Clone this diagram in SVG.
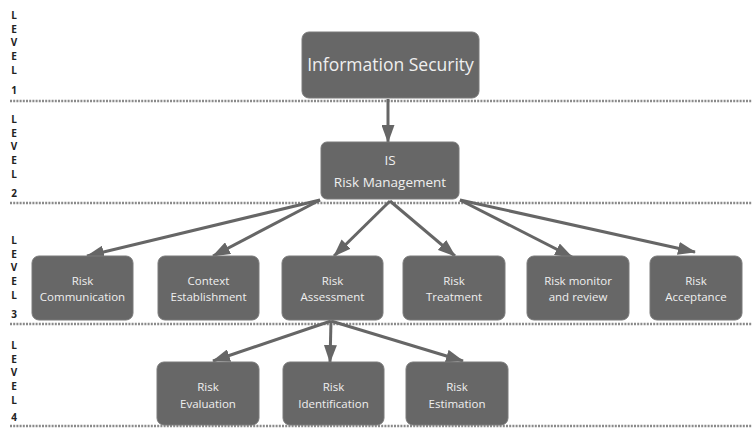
<svg xmlns="http://www.w3.org/2000/svg" width="752" height="430" viewBox="0 0 752 430">
  <defs>
    <marker id="arrow" viewBox="0 0 18 13" refX="17" refY="6.5" markerWidth="18" markerHeight="13" markerUnits="userSpaceOnUse" orient="auto">
      <path d="M0,0 L18,6.5 L0,13 Z" fill="#666"/>
    </marker>
    <style>
      .box { fill: #676767; stroke: #7a7a7a; stroke-width: 1; }
      .lbl { font-family: "Open Sans", "Liberation Sans", sans-serif; font-size: 11.5px; fill: #efefef; text-anchor: middle; }
      .big { font-size: 17.5px; }
      .mid { font-size: 13.5px; }
      .lvl { font-family: "Open Sans", "Liberation Sans", sans-serif; font-size: 10px; font-weight: bold; fill: #222; text-anchor: middle; }
      .sep { stroke: #8a8a8a; stroke-width: 2.5; stroke-dasharray: 2 1.2; fill: none; }
      .edge { stroke: #666; stroke-width: 3; fill: none; marker-end: url(#arrow); }
    </style>
  </defs>

  <rect width="752" height="430" fill="#ffffff"/>

  <!-- level separators -->
  <g id="separators">
    <line class="sep" x1="10" y1="101" x2="752" y2="101"/>
    <line class="sep" x1="10" y1="203" x2="752" y2="203"/>
    <line class="sep" x1="10" y1="324" x2="752" y2="324"/>
    <line class="sep" x1="10" y1="426" x2="752" y2="426"/>
  </g>

  <!-- level captions -->
  <g id="level-labels">
    <text class="lvl" x="14"><tspan x="14" y="19">L</tspan><tspan x="14" y="33">E</tspan><tspan x="14" y="46">V</tspan><tspan x="14" y="60">E</tspan><tspan x="14" y="74">L</tspan><tspan x="14" y="94">1</tspan></text>
    <text class="lvl" x="14"><tspan x="14" y="123">L</tspan><tspan x="14" y="137">E</tspan><tspan x="14" y="150">V</tspan><tspan x="14" y="164">E</tspan><tspan x="14" y="178">L</tspan><tspan x="14" y="197">2</tspan></text>
    <text class="lvl" x="14"><tspan x="14" y="244">L</tspan><tspan x="14" y="258">E</tspan><tspan x="14" y="271">V</tspan><tspan x="14" y="285">E</tspan><tspan x="14" y="299">L</tspan><tspan x="14" y="318">3</tspan></text>
    <text class="lvl" x="14"><tspan x="14" y="349">L</tspan><tspan x="14" y="363">E</tspan><tspan x="14" y="376">V</tspan><tspan x="14" y="390">E</tspan><tspan x="14" y="404">L</tspan><tspan x="14" y="421">4</tspan></text>
  </g>

  <!-- connectors -->
  <g id="connectors">
    <line class="edge" x1="388" y1="99" x2="388" y2="142"/>
    <line class="edge" x1="320" y1="200" x2="87" y2="256"/>
    <line class="edge" x1="320" y1="200" x2="213" y2="256"/>
    <line class="edge" x1="390" y1="201" x2="334" y2="256"/>
    <line class="edge" x1="390" y1="201" x2="455" y2="256"/>
    <line class="edge" x1="460" y1="200" x2="572" y2="257"/>
    <line class="edge" x1="460" y1="200" x2="695" y2="252"/>
    <line class="edge" x1="331" y1="321" x2="213" y2="361"/>
    <line class="edge" x1="331" y1="321" x2="330" y2="362"/>
    <line class="edge" x1="331" y1="321" x2="463" y2="361"/>
  </g>

  <!-- level 1 -->
  <g id="information-security">
    <rect class="box" x="302" y="32" width="177" height="66" rx="7"/>
    <text class="lbl big" x="390.5" y="71">Information Security</text>
  </g>

  <!-- level 2 -->
  <g id="is-risk-management">
    <rect class="box" x="321" y="142" width="138" height="57" rx="6"/>
    <text class="lbl mid" x="390" y="165">IS</text>
    <text class="lbl mid" x="390" y="187">Risk Management</text>
  </g>

  <!-- level 3 -->
  <g id="risk-communication">
    <rect class="box" x="32" y="256" width="101" height="64" rx="7"/>
    <text class="lbl" x="82.5" y="285">Risk</text>
    <text class="lbl" x="82.5" y="301">Communication</text>
  </g>
  <g id="context-establishment">
    <rect class="box" x="158" y="256" width="101" height="64" rx="7"/>
    <text class="lbl" x="208.5" y="285">Context</text>
    <text class="lbl" x="208.5" y="301">Establishment</text>
  </g>
  <g id="risk-assessment">
    <rect class="box" x="282" y="256" width="101" height="64" rx="7"/>
    <text class="lbl" x="332.5" y="285">Risk</text>
    <text class="lbl" x="332.5" y="301">Assessment</text>
  </g>
  <g id="risk-treatment">
    <rect class="box" x="403" y="256" width="102" height="64" rx="7"/>
    <text class="lbl" x="454" y="285">Risk</text>
    <text class="lbl" x="454" y="301">Treatment</text>
  </g>
  <g id="risk-monitor-review">
    <rect class="box" x="527" y="256" width="102" height="64" rx="7"/>
    <text class="lbl" x="578" y="285">Risk monitor</text>
    <text class="lbl" x="578" y="301">and review</text>
  </g>
  <g id="risk-acceptance">
    <rect class="box" x="650" y="256" width="92" height="64" rx="7"/>
    <text class="lbl" x="696" y="285">Risk</text>
    <text class="lbl" x="696" y="301">Acceptance</text>
  </g>

  <!-- level 4 -->
  <g id="risk-evaluation">
    <rect class="box" x="157" y="362" width="102" height="63" rx="7"/>
    <text class="lbl" x="208" y="391">Risk</text>
    <text class="lbl" x="208" y="408">Evaluation</text>
  </g>
  <g id="risk-identification">
    <rect class="box" x="283" y="362" width="101" height="63" rx="7"/>
    <text class="lbl" x="333.5" y="391">Risk</text>
    <text class="lbl" x="333.5" y="408">Identification</text>
  </g>
  <g id="risk-estimation">
    <rect class="box" x="406" y="362" width="102" height="63" rx="7"/>
    <text class="lbl" x="457" y="391">Risk</text>
    <text class="lbl" x="457" y="408">Estimation</text>
  </g>
</svg>
